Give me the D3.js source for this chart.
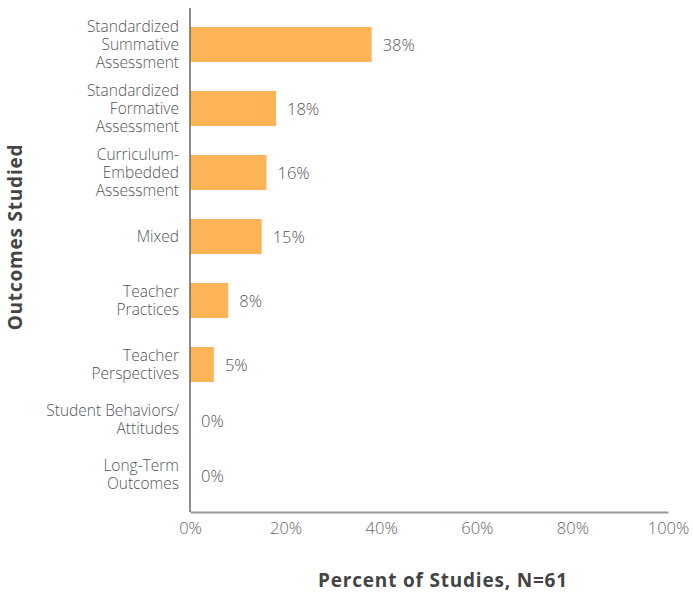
<!DOCTYPE html>
<html>
<head>
<meta charset="utf-8">
<script src="https://cdn.jsdelivr.net/npm/d3@7"></script>
<style>
  html, body { margin: 0; padding: 0; background: #fff; }
  svg { display: block; font-family: "Open Sans", Lato, sans-serif; }
</style>
</head>
<body>
<svg id="chart" width="693" height="592"></svg>
<script>
// Outcome categories (each entry is split into display lines)
const categories = [
  ["Standardized", "Summative", "Assessment"],
  ["Standardized", "Formative", "Assessment"],
  ["Curriculum-", "Embedded", "Assessment"],
  ["Mixed"],
  ["Teacher", "Practices"],
  ["Teacher", "Perspectives"],
  ["Student Behaviors/", "Attitudes"],
  ["Long-Term", "Outcomes"]
];
// Percent of studies per outcome
const values = [38, 18, 16, 15, 8, 5, 0, 0];
// X axis ticks
const xTicks = [0, 20, 40, 60, 80, 100];

const svg = d3.select("#chart");
const plotLeft = 190, plotRight = 668, plotTop = 8, plotBottom = 512;
const barH = 35;

const x = d3.scaleLinear().domain([0, 100]).range([plotLeft, plotRight]);
// category centres: evenly spaced for the bars, tighter for the empty rows
const y = d3.scaleLinear().domain([0, 5, 7]).range([44.5, 364.5, 475]);

const idx = d3.range(categories.length);

// bars
svg.append("g").selectAll("rect")
  .data(idx.filter(i => values[i] > 0))
  .join("rect")
  .attr("x", x(0))
  .attr("y", i => y(i) - barH / 2)
  .attr("width", i => x(values[i]) - x(0))
  .attr("height", barH)
  .attr("fill", "#FDB457");

// value labels
svg.append("g").selectAll("text")
  .data(idx)
  .join("text")
  .attr("x", i => x(values[i]) + 11)
  .attr("y", i => y(i) + 1)
  .attr("dy", "0.35em")
  .attr("font-size", 16.5)
  .attr("font-weight", 300)
  .attr("fill", "#555")
  .text(i => values[i] + "%");

// category labels
const lineH = 18;
const catG = svg.append("g").selectAll("text")
  .data(idx)
  .join("text")
  .attr("text-anchor", "end")
  .attr("font-size", 15.5)
  .attr("font-weight", 300)
  .attr("fill", "#555")
  .attr("y", i => y(i) - (categories[i].length - 1) * lineH / 2);
catG.selectAll("tspan")
  .data(i => categories[i])
  .join("tspan")
  .attr("x", 179)
  .attr("dy", (d, j) => j === 0 ? "0.35em" : lineH)
  .text(d => d);

// x axis
const xAxis = svg.append("g")
  .attr("transform", `translate(0,${plotBottom})`)
  .call(d3.axisBottom(x).tickValues(xTicks).tickSize(0).tickPadding(10).tickFormat(d => d + "%"));
xAxis.select(".domain").attr("stroke", "#999").attr("stroke-width", 2);
xAxis.selectAll("text").attr("font-size", 16.5).attr("fill", "#666")
  .attr("font-weight", 300)
  .attr("font-family", "'Open Sans', sans-serif");

// y axis line
svg.append("line")
  .attr("x1", plotLeft).attr("x2", plotLeft)
  .attr("y1", plotTop).attr("y2", plotBottom)
  .attr("stroke", "#666").attr("stroke-width", 1.5);

// axis titles
svg.append("text")
  .attr("x", 443).attr("y", 580)
  .attr("dy", "0.35em")
  .attr("text-anchor", "middle")
  .attr("font-size", 19).attr("font-weight", "bold")
  .attr("letter-spacing", 0.8)
  .attr("fill", "#444")
  .text("Percent of Studies, N=61");

svg.append("text")
  .attr("transform", "translate(15,237) rotate(-90)")
  .attr("dy", "0.35em")
  .attr("text-anchor", "middle")
  .attr("font-size", 19).attr("font-weight", "bold")
  .attr("letter-spacing", 0.8)
  .attr("fill", "#444")
  .text("Outcomes Studied");
</script>
</body>
</html>
